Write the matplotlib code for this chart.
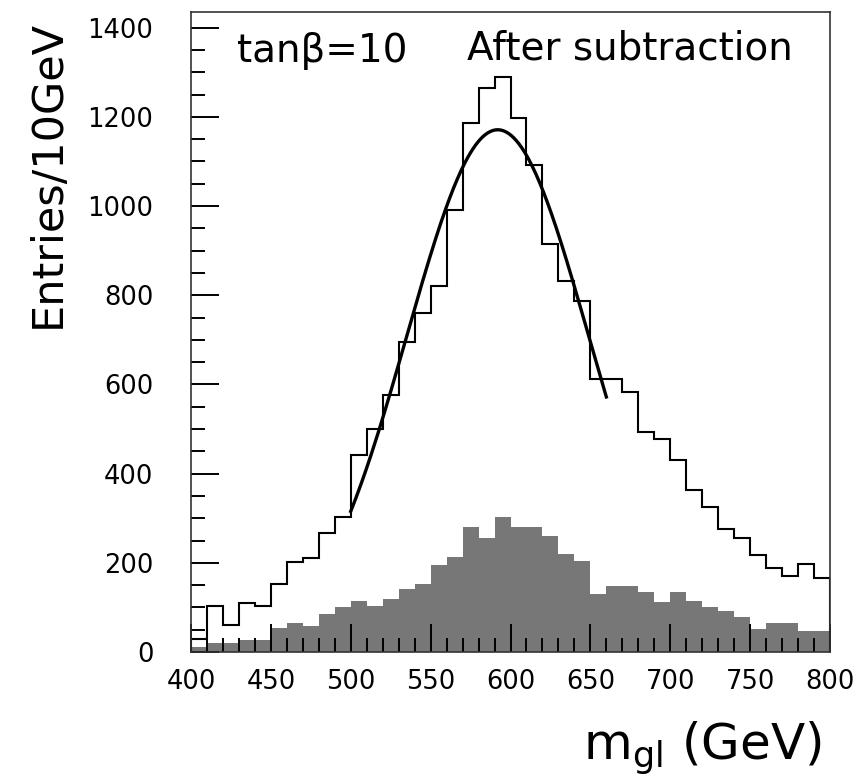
import numpy as np
import matplotlib
matplotlib.use("Agg")
import matplotlib.pyplot as plt
from matplotlib.ticker import MultipleLocator

# bin edges, 10 GeV bins from 400 to 800
edges = np.arange(400, 810, 10)

# open histogram (after subtraction)
after_sub = [29, 103, 61, 109, 104, 152, 202, 210, 266, 302,
             442, 500, 577, 696, 760, 820, 990, 1186, 1265, 1289,
             1197, 1091, 915, 831, 786, 612, 612, 583, 494, 477,
             431, 363, 326, 275, 255, 218, 188, 171, 197, 167]

# grey filled histogram
background = [12, 21, 21, 27, 27, 53, 64, 58, 85, 100,
              114, 104, 119, 141, 152, 194, 214, 281, 256, 302,
              281, 281, 260, 220, 203, 130, 147, 147, 135, 111,
              135, 115, 100, 93, 78, 52, 64, 64, 47, 47]

# gaussian fit
fit_amp = 1171.0
fit_mean = 592.0
fit_sigma = 56.8
fit_range = (500, 660)

xticks = [400, 450, 500, 550, 600, 650, 700, 750, 800]
yticks = [0, 200, 400, 600, 800, 1000, 1200, 1400]

fig = plt.figure(figsize=(8.58, 7.79), dpi=100)
ax = fig.add_axes([191/858, 1-652/779, (830-191)/858, (652-12)/779])

ax.stairs(background, edges, fill=True, color="#777777", linewidth=0)
ax.stairs(after_sub, edges, color="black", linewidth=1.5)

xf = np.linspace(fit_range[0], fit_range[1], 200)
yf = fit_amp*np.exp(-0.5*((xf-fit_mean)/fit_sigma)**2)
ax.plot(xf, yf, color="black", linewidth=2.4)

ax.set_xlim(400, 800)
ax.set_ylim(0, 1435)
ax.set_xticks(xticks)
ax.set_yticks(yticks)
ax.xaxis.set_minor_locator(MultipleLocator(10))
ax.yaxis.set_minor_locator(MultipleLocator(50))
ax.tick_params(which="both", direction="in", top=False, right=False, width=1.4, color="black")
ax.tick_params(which="major", length=20)
ax.tick_params(which="minor", length=10)
ax.tick_params(axis="x", which="major", pad=12, labelsize=18.5)
ax.tick_params(axis="y", which="major", pad=27, labelsize=18.5)
for s in ax.spines.values():
    s.set_linewidth(1.2)
    s.set_color("#333333")

ax.text(237/858, 1-62/779, "tanβ=10", transform=fig.transFigure, fontsize=28, va="baseline")
ax.text(467/858, 1-60/779, "After subtraction", transform=fig.transFigure, fontsize=28, va="baseline")

fig.text(48/858, 1-174/779, "Entries/10GeV", rotation=90, fontsize=31, ha="center", va="center")
fig.text(583/858, 1-760/779, r"$\mathregular{m_{gl}}$ (GeV)", fontsize=36, ha="left", va="baseline")

fig.savefig("out.png", dpi=100)
